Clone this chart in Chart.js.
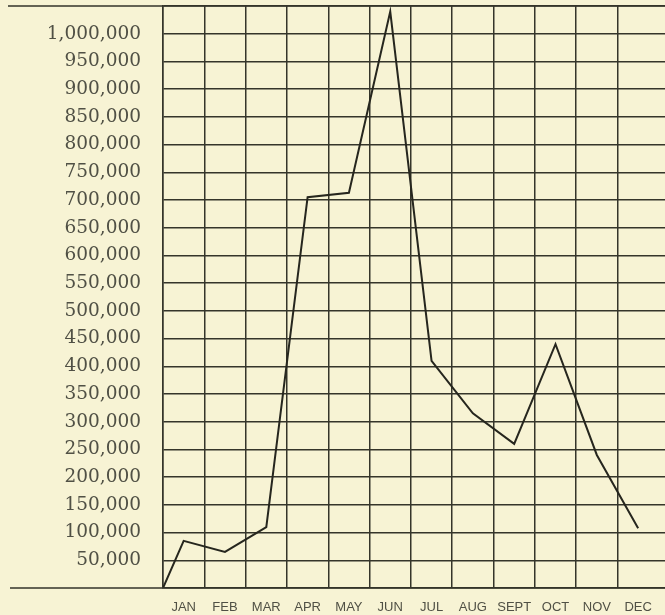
<!DOCTYPE html>
<html>
<head>
<meta charset="utf-8">
<script src="https://cdn.jsdelivr.net/npm/chart.js@4/dist/chart.umd.min.js"></script>
<style>
  html, body { margin: 0; padding: 0; background: #f7f3d4; }
  #wrap { width: 665px; height: 615px; position: relative; }
</style>
</head>
<body>
<div id="wrap"><canvas id="c" width="665" height="615"></canvas></div>
<script>
// ---- data ----
const months = ["JAN", "FEB", "MAR", "APR", "MAY", "JUN", "JUL", "AUG", "SEPT", "OCT", "NOV", "DEC"];
const values = [85000, 65000, 110000, 705000, 713000, 1040000, 410000, 315000, 260000, 440000, 240000, 108000];
const startValue = 0;
const yTickValues = [50000, 100000, 150000, 200000, 250000, 300000, 350000, 400000, 450000, 500000,
                     550000, 600000, 650000, 700000, 750000, 800000, 850000, 900000, 950000, 1000000];
const yMax = 1050000;

// ---- build points: start at the left edge, months at column centres ----
const points = [{ x: 0, y: startValue }].concat(values.map((v, i) => ({ x: i + 0.5, y: v })));

const ink = '#35352a';
const textInk = '#505045';

const borderPlugin = {
  id: 'borders',
  afterDatasetsDraw(chart) {
    const { ctx, chartArea } = chart;
    ctx.save();
    ctx.strokeStyle = ink;
    ctx.lineWidth = 1.6;
    ctx.beginPath();
    ctx.moveTo(8, chartArea.top);
    ctx.lineTo(chartArea.right, chartArea.top);
    ctx.moveTo(10, chartArea.bottom);
    ctx.lineTo(chartArea.right, chartArea.bottom);
    ctx.stroke();
    ctx.restore();
  }
};

function zeroPad(axis) {
  axis.paddingTop = 0; axis.paddingBottom = 0;
  axis.paddingLeft = 0; axis.paddingRight = 0;
}

new Chart(document.getElementById('c'), {
  type: 'line',
  data: {
    datasets: [{
      data: points,
      borderColor: '#26261e',
      borderWidth: 2,
      pointRadius: 0,
      tension: 0,
      fill: false
    }]
  },
  options: {
    responsive: false,
    animation: false,
    layout: { autoPadding: false, padding: { top: 6, right: 0, left: 0, bottom: 0 } },
    plugins: { legend: { display: false }, tooltip: { enabled: false } },
    scales: {
      x: {
        type: 'linear',
        min: 0,
        max: 12.15,
        afterBuildTicks(axis) {
          const t = [];
          for (let i = 0; i <= 23; i++) t.push({ value: i * 0.5 });
          axis.ticks = t;
        },
        afterFit(axis) { axis.height = 27; zeroPad(axis); },
        border: { display: false },
        grid: {
          drawTicks: false,
          lineWidth: 1.5,
          color: (c) => {
            const v = c.tick ? c.tick.value : 0;
            return Number.isInteger(v) && v < 12 ? ink : 'rgba(0,0,0,0)';
          }
        },
        ticks: {
          autoSkip: false,
          maxRotation: 0,
          padding: 12,
          color: textInk,
          font: { family: 'Liberation Sans', size: 13 },
          callback: (v) => Number.isInteger(v) ? '' : months[Math.floor(v)]
        }
      },
      y: {
        min: 0,
        max: yMax,
        afterBuildTicks(axis) {
          const t = [{ value: 0 }];
          yTickValues.forEach(v => t.push({ value: v }));
          t.push({ value: yMax });
          axis.ticks = t;
        },
        afterFit(axis) { axis.width = 163; zeroPad(axis); },
        border: { display: true, color: ink, width: 1.5 },
        grid: {
          drawTicks: false,
          lineWidth: 1.5,
          color: ink
        },
        ticks: {
          padding: 22,
          color: textInk,
          font: { family: 'DejaVu Serif', size: 18.5 },
          callback: (v) => (v === 0 || v === yMax) ? '' : v.toLocaleString('en-US')
        }
      }
    }
  },
  plugins: [borderPlugin]
});
</script>
</body>
</html>
